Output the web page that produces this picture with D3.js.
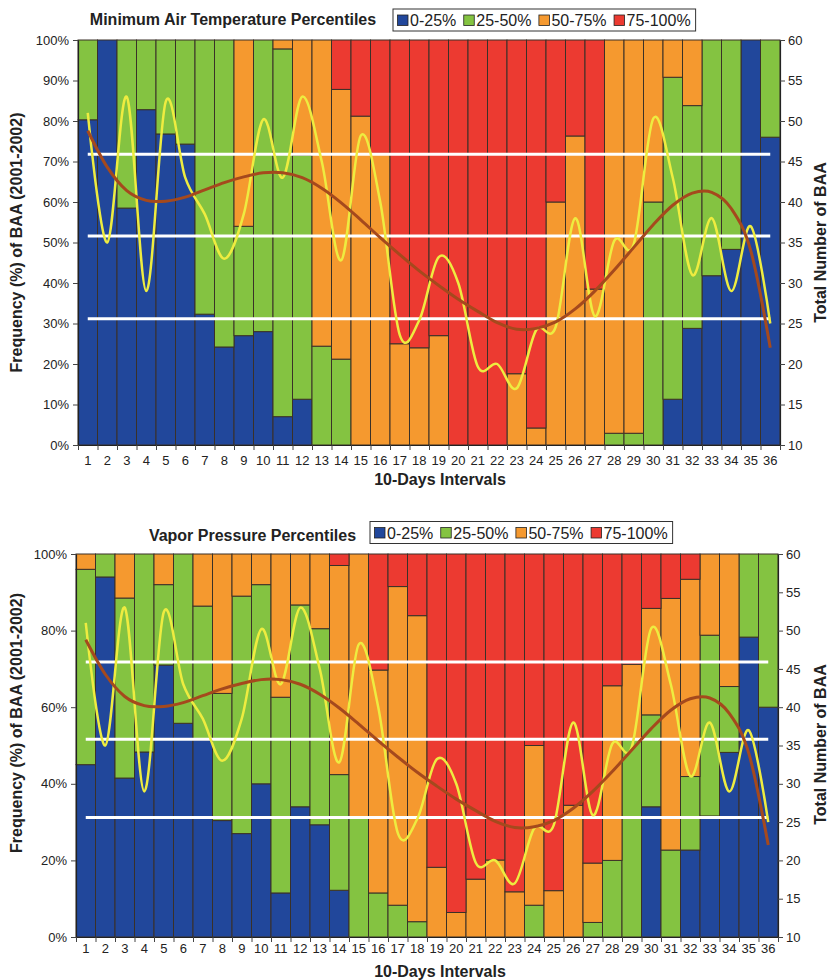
<!DOCTYPE html>
<html>
<head>
<meta charset="utf-8">
<script src="https://cdn.jsdelivr.net/npm/d3@7"></script>
<style>
  body { margin: 0; background: #fff; }
  svg { font-family: "Liberation Sans", Arial, sans-serif; }
</style>
</head>
<body>
<div id="chart"></div>
<script>
var intervals = [1,2,3,4,5,6,7,8,9,10,11,12,13,14,15,16,17,18,19,20,21,22,23,24,25,26,27,28,29,30,31,32,33,34,35,36];
var legendLabels = ["0-25%", "25-50%", "50-75%", "75-100%"];
var pctTicksTop = [0,10,20,30,40,50,60,70,80,90,100];
var pctTicksBottom = [0,20,40,60,80,100];
var countTicks = [10,15,20,25,30,35,40,45,50,55,60];

// Minimum air temperature: share (%) of BAA in each percentile class
var tminBlue   = [80.3,100,58.5,82.8,76.8,74.3,32.3,24.2,27,28,7,11.3,0,0,0,0,0,0,0,0,0,0,0,0,0,0,0,0,0,0,11.3,28.8,41.8,48.3,100,76];
var tminGreen  = [19.7,0,41.5,17.2,23.2,25.7,67.7,75.8,27,72,90.8,60.3,24.4,21.2,0,0,0,0,0,0,0,0,0,0,0,0,0,2.9,2.9,60,79.5,55,58.2,51.7,0,24];
var tminOrange = [0,0,0,0,0,0,0,0,46,0,2.2,28.4,75.6,66.6,81.2,72,25,24,27,0,0,0,17.6,4.2,60,76.3,38.5,97.1,97.1,40,9.2,16.2,0,0,0,0];
var tminRed    = [0,0,0,0,0,0,0,0,0,0,0,0,0,12.2,18.8,28,75,76,73,100,100,100,82.4,95.8,40,23.7,61.5,0,0,0,0,0,0,0,0,0];

// Vapor pressure: share (%) of BAA in each percentile class
var vpBlue   = [45,94,41.5,48.3,71,55.8,51.5,30.4,27,40,11.5,34,29.3,12.2,0,0,0,0,0,0,0,0,0,0,0,0,0,0,0,34,0,22.7,31.6,48.2,78.3,60];
var vpGreen  = [51,6,47,51.7,21,44.2,34.9,33.2,62,52,51.1,52.7,51.2,30.2,31,11.5,8.3,4,0,0,0,0,0,8.3,0,0,3.8,20,51.8,24,22.7,19.2,47.2,17.2,21.7,40];
var vpOrange = [4,0,11.5,0,8,0,13.6,36.4,11,8,37.4,13.3,19.5,54.6,69,58.2,83.2,79.9,18.2,6.4,15.1,20.1,11.8,41.7,12.1,34.4,15.5,45.6,19.4,27.8,65.7,51.5,21.2,34.6,0,0];
var vpRed    = [0,0,0,0,0,0,0,0,0,0,0,0,0,3,0,30.3,8.5,16.1,81.8,93.6,84.9,79.9,88.2,50,87.9,65.6,80.7,34.4,28.8,14.2,11.6,6.6,0,0,0,0];

// Total number of BAA per interval and its trend line
var totalBAA = [51,35,53,29,52.4,43,38.5,33,38.5,50.2,43,53,45,32.8,48.2,40,23.6,25.4,33.2,30,19.7,20,17,24.2,24.6,38,25.9,35.2,34.8,50.3,43,31,38,29,37,25];
var trendBAA = [48.8,44.3,41.4,40.2,40.1,40.6,41.5,42.4,43.1,43.6,43.6,43,41.7,39.9,37.8,35.6,33.5,31.5,29.7,28,26.5,25.1,24.3,24.4,25.2,26.8,29,31.6,34.4,37.2,39.6,41.1,41.2,39.2,34,22];
var refLines = [45.9, 35.8, 25.6];

var colors = ["#21479b", "#84c341", "#f5992f", "#ec3a31"];

var svg = d3.select("#chart")
  .append("svg")
    .attr("width", 828)
    .attr("height", 980);

function drawPanel(cfg) {
  var keys = ["q1", "q2", "q3", "q4"];
  var rows = intervals.map(function(d, i) {
    return {interval: d, q1: cfg.series[0][i], q2: cfg.series[1][i], q3: cfg.series[2][i], q4: cfg.series[3][i]};
  });
  var stacked = d3.stack().keys(keys)(rows);

  var x = d3.scaleBand().domain(intervals).range([cfg.left, cfg.right]).padding(0);
  var xEdge = d3.scaleLinear().domain([0, intervals.length]).range([cfg.left, cfg.right]);
  var y = d3.scaleLinear().domain([0, 100]).range([cfg.bottom, cfg.top]);
  var yR = d3.scaleLinear().domain([10, 60]).range([cfg.bottom, cfg.top]);
  var bw = x.bandwidth();

  var g = svg.append("g");

  g.selectAll("g.layer")
    .data(stacked)
    .join("g")
      .attr("class", "layer")
      .attr("fill", function(d, i) { return colors[i]; })
    .selectAll("rect")
    .data(function(d) { return d.filter(function(p) { return p[1] - p[0] > 0; }); })
    .join("rect")
      .attr("x", function(d) { return x(d.data.interval); })
      .attr("y", function(d) { return y(d[1]); })
      .attr("width", bw)
      .attr("height", function(d) { return y(d[0]) - y(d[1]); })
      .attr("stroke", "#3a3128")
      .attr("stroke-width", 1);

  // white reference lines
  g.selectAll("line.ref")
    .data(refLines)
    .join("line")
      .attr("x1", x(intervals[0]) + bw / 2)
      .attr("x2", x(intervals[intervals.length - 1]) + bw / 2)
      .attr("y1", function(d) { return yR(d); })
      .attr("y2", function(d) { return yR(d); })
      .attr("stroke", "#fff")
      .attr("stroke-width", 3);

  var line = d3.line()
    .x(function(d, i) { return x(intervals[i]) + bw / 2; })
    .y(function(d) { return yR(d); })
    .curve(d3.curveCardinal.tension(0));

  g.append("path")
    .datum(totalBAA)
    .attr("d", line)
    .attr("fill", "none")
    .attr("stroke", "#eeec40")
    .attr("stroke-width", 2.5);

  g.append("path")
    .datum(trendBAA)
    .attr("d", line)
    .attr("fill", "none")
    .attr("stroke", "#a5491d")
    .attr("stroke-width", 3);

  // axes
  var left = g.append("g")
    .attr("transform", "translate(" + cfg.left + ",0)")
    .call(d3.axisLeft(y).tickValues(cfg.pctTicks).tickFormat(function(d) { return d + "%"; })
      .tickSize(5).tickSizeOuter(0).tickPadding(4));
  var right = g.append("g")
    .attr("transform", "translate(" + cfg.right + ",0)")
    .call(d3.axisRight(yR).tickValues(countTicks).tickSize(5).tickSizeOuter(0).tickPadding(3));
  var bottomEdges = g.append("g")
    .attr("transform", "translate(0," + cfg.bottom + ")")
    .call(d3.axisBottom(xEdge).tickValues(d3.range(0, intervals.length + 1)).tickFormat("")
      .tickSize(5).tickSizeOuter(0));
  var bottomLabels = g.append("g")
    .attr("transform", "translate(0," + cfg.bottom + ")")
    .call(d3.axisBottom(x).tickSize(0).tickPadding(cfg.xLabelPad));
  bottomLabels.select(".domain").remove();

  [left, right, bottomEdges, bottomLabels].forEach(function(a) {
    a.attr("font-size", 13).attr("font-family", null);
    a.selectAll("text").attr("fill", "#222");
    a.selectAll("line").attr("stroke", "#444");
    a.select(".domain").attr("stroke", "#222").attr("stroke-width", 1.2);
  });

  // titles
  g.append("text")
    .attr("x", cfg.titleX)
    .attr("y", cfg.titleY)
    .attr("text-anchor", "middle")
    .attr("font-weight", 700)
    .attr("font-size", 16)
    .attr("fill", "#222")
    .text(cfg.title);

  g.append("text")
    .attr("x", 440)
    .attr("y", cfg.xTitleY)
    .attr("text-anchor", "middle")
    .attr("font-weight", 700)
    .attr("font-size", 16)
    .attr("fill", "#222")
    .text("10-Days Intervals");

  g.append("text")
    .attr("transform", "translate(22," + cfg.leftTitleY + ") rotate(-90)")
    .attr("text-anchor", "middle")
    .attr("font-weight", 700)
    .attr("font-size", 16)
    .attr("fill", "#222")
    .text("Frequency (%) of BAA (2001-2002)");

  g.append("text")
    .attr("transform", "translate(826," + cfg.rightTitleY + ") rotate(-90)")
    .attr("text-anchor", "middle")
    .attr("font-weight", 700)
    .attr("font-size", 16)
    .attr("fill", "#222")
    .text("Total Number of BAA");

  // legend
  var lg = g.append("g");
  var box = lg.append("rect")
    .attr("fill", "#fff")
    .attr("stroke", "#333")
    .attr("stroke-width", 1);
  var cx = cfg.legendX + 4.5;
  legendLabels.forEach(function(lab, i) {
    lg.append("rect")
      .attr("x", cx)
      .attr("y", cfg.legendY + 6)
      .attr("width", 10.5)
      .attr("height", 10.5)
      .attr("fill", colors[i])
      .attr("stroke", "#222")
      .attr("stroke-width", 0.8);
    var t = lg.append("text")
      .attr("x", cx + 12.5)
      .attr("y", cfg.legendY + 17)
      .attr("font-size", 16)
      .attr("fill", "#222")
      .text(lab);
    cx = cx + 12.5 + t.node().getComputedTextLength() + 7.5;
  });
  box.attr("x", cfg.legendX)
    .attr("y", cfg.legendY)
    .attr("width", cx - 2.5 - cfg.legendX)
    .attr("height", 22);
}

drawPanel({
  series: [tminBlue, tminGreen, tminOrange, tminRed],
  pctTicks: pctTicksTop,
  left: 78, right: 780, top: 40, bottom: 445,
  title: "Minimum Air Temperature Percentiles", titleX: 233, titleY: 25,
  legendX: 393, legendY: 9,
  xLabelPad: 11, xTitleY: 485,
  leftTitleY: 242.5, rightTitleY: 242.5
});

drawPanel({
  series: [vpBlue, vpGreen, vpOrange, vpRed],
  pctTicks: pctTicksBottom,
  left: 76, right: 778, top: 554, bottom: 937,
  title: "Vapor Pressure Percentiles", titleX: 252.5, titleY: 540.5,
  legendX: 370, legendY: 521.5,
  xLabelPad: 7, xTitleY: 977,
  leftTitleY: 723, rightTitleY: 744.5
});
</script>
</body>
</html>
